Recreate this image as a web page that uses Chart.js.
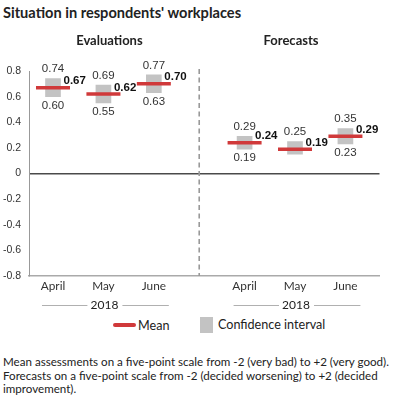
<!DOCTYPE html>
<html><head><meta charset="utf-8">
<script src="https://cdn.jsdelivr.net/npm/chart.js@4"></script>
<style>
html,body{margin:0;padding:0;background:#fff;}
body{width:400px;height:399px;position:relative;overflow:hidden;font-family:Lato,"Noto Sans",sans-serif;color:#222;}
#title{position:absolute;left:3px;top:4px;font-weight:bold;font-size:14.6px;line-height:18px;white-space:nowrap;color:#222;}
#wrap{position:absolute;left:0;top:0;width:400px;height:316px;}
#legend{position:absolute;left:0;top:316px;width:400px;height:18px;font-size:12.6px;color:#222;}
.sw-mean{position:absolute;left:113px;top:7px;width:23px;height:4px;border-radius:2px;background:#d0393a;}
.tx-mean{position:absolute;left:138px;top:1px;line-height:18px;}
.sw-ci{position:absolute;left:200px;top:1px;width:13px;height:16px;background:#c3c3c3;}
.tx-ci{position:absolute;left:218px;top:0px;line-height:18px;}
#note{position:absolute;left:3px;top:355px;font-size:11.6px;line-height:13.7px;white-space:nowrap;color:#222;}
</style>
</head>
<body>
<div id="title"></div>
<div id="wrap"><canvas id="c" width="400" height="316"></canvas></div>
<div id="legend">
  <div class="sw-mean"></div><div class="tx-mean" id="lgMean"></div>
  <div class="sw-ci"></div><div class="tx-ci" id="lgCI"></div>
</div>
<div id="note"></div>
<script>
// ---- data ----
const titleText = "Situation in respondents' workplaces";
const months = ['April', 'May', 'June'];
const groupNames = ['Evaluations', 'Forecasts'];
const yearLabel = '2018';
const evalMean = [0.67, 0.62, 0.70];
const evalLow  = [0.60, 0.55, 0.63];
const evalHigh = [0.74, 0.69, 0.77];
const foreMean = [0.24, 0.19, 0.29];
const foreLow  = [0.19, 0.15, 0.23];
const foreHigh = [0.29, 0.25, 0.35];
const evalLowShown = [true, true, true];
const foreLowShown = [true, false, true];
const yTicks = [-0.8, -0.6, -0.4, -0.2, 0, 0.2, 0.4, 0.6, 0.8];
const legendLabels = ['Mean', 'Confidence interval'];
const noteLines = [
  'Mean assessments on a five-point scale from -2 (very bad) to +2 (very good).',
  'Forecasts on a five-point scale from -2 (decided worsening) to +2 (decided',
  'improvement).'
];

// ---- build ----
document.getElementById('title').textContent = titleText;
document.getElementById('lgMean').textContent = legendLabels[0];
document.getElementById('lgCI').textContent = legendLabels[1];
document.getElementById('note').innerHTML = noteLines.map(s => s.replace(/&/g,'&amp;').replace(/</g,'&lt;')).join('<br>');

const GROUP_STEP = 3.8;
const series = [
  {mean: evalMean, low: evalLow, high: evalHigh, lowShown: evalLowShown},
  {mean: foreMean, low: foreLow, high: foreHigh, lowShown: foreLowShown}
];
const pts = [];
series.forEach((s, g) => months.forEach((m, i) => pts.push({
  x: g * GROUP_STEP + i, g, i, mean: s.mean[i], low: s.low[i], high: s.high[i], lowShown: s.lowShown[i]
})));

const RED = '#d0393a';
const GRAY = '#c3c3c3';
const SANS = 'Lato, "Noto Sans", sans-serif';
const ARIAL = '"Liberation Sans", Arial, sans-serif';

const annot = {
  id: 'annot',
  afterDatasetsDraw(chart) {
    const ctx = chart.ctx, xs = chart.scales.x, ys = chart.scales.y, ca = chart.chartArea;
    ctx.save();
    // separator
    const sepX = xs.getPixelForValue((months.length - 1 + GROUP_STEP) / 2);
    ctx.strokeStyle = '#999'; ctx.lineWidth = 1.6; ctx.setLineDash([5, 3.5]);
    ctx.beginPath(); ctx.moveTo(sepX, ca.top - 2); ctx.lineTo(sepX, ca.bottom); ctx.stroke();
    ctx.setLineDash([]);
    // value labels
    pts.forEach(p => {
      const px = xs.getPixelForValue(p.x);
      ctx.textAlign = 'center'; ctx.textBaseline = 'middle';
      ctx.fillStyle = '#333'; ctx.font = '11.5px ' + ARIAL;
      ctx.fillText(p.high.toFixed(2), px, ys.getPixelForValue(p.high) - 9.5);
      if (p.lowShown) ctx.fillText(p.low.toFixed(2), px, ys.getPixelForValue(p.low) + 9);
      ctx.textAlign = 'left'; ctx.fillStyle = '#111'; ctx.font = 'bold 11.5px ' + ARIAL;
      ctx.fillText(p.mean.toFixed(2), px + 10.5, ys.getPixelForValue(p.mean) - 6.5);
    });
    // group titles & year brackets
    const titleOff = [6, -4];
    groupNames.forEach((name, g) => {
      const x0 = xs.getPixelForValue(g * GROUP_STEP);
      const x2 = xs.getPixelForValue(g * GROUP_STEP + months.length - 1);
      const xc = xs.getPixelForValue(g * GROUP_STEP + (months.length - 1) / 2);
      ctx.fillStyle = '#222'; ctx.font = 'bold 13px ' + SANS;
      ctx.textAlign = 'center'; ctx.textBaseline = 'middle';
      ctx.fillText(name, xc + titleOff[g], ca.top - 30);
      const yy = ca.bottom + 29;
      ctx.font = '12px ' + SANS; ctx.fillStyle = '#222';
      ctx.fillText(yearLabel, xc + 1, yy);
      ctx.strokeStyle = '#b0b0b0'; ctx.lineWidth = 1;
      ctx.beginPath();
      ctx.moveTo(x0 - 11, yy + 0.5); ctx.lineTo(xc - 16, yy + 0.5);
      ctx.moveTo(xc + 19, yy + 0.5); ctx.lineTo(x2 + 15, yy + 0.5);
      ctx.stroke();
    });
    ctx.restore();
  }
};

new Chart(document.getElementById('c'), {
  type: 'bar',
  data: {
    datasets: [
      {
        type: 'scatter',
        data: pts.map(p => ({x: p.x, y: p.mean})),
        pointStyle: 'line', pointRadius: 17, pointHoverRadius: 17,
        pointBorderWidth: 3.5, pointHoverBorderWidth: 3.5,
        borderColor: RED, backgroundColor: RED, showLine: false, order: 0
      },
      {
        type: 'bar',
        data: pts.map(p => ({x: p.x, y: [p.low, p.high]})),
        backgroundColor: GRAY, borderWidth: 0, barThickness: 15, order: 1
      }
    ]
  },
  options: {
    responsive: false, animation: false, devicePixelRatio: 1,
    events: [],
    layout: {padding: {top: 71, right: 6, left: 0, bottom: 0}},
    plugins: {legend: {display: false}, tooltip: {enabled: false}},
    scales: {
      x: {
        type: 'linear', min: -0.476, max: 6.476, offset: false,
        grid: {display: false, drawTicks: false},
        border: {display: true, color: '#aaa', width: 1.5},
        afterBuildTicks: s => { s.ticks = pts.map(p => ({value: p.x})); },
        afterFit: s => { s.height = 40; },
        ticks: {
          autoSkip: false, maxRotation: 0, padding: 3, color: '#333',
          font: {family: SANS, size: 11.8},
          callback: (v, idx) => months[idx % months.length]
        }
      },
      y: {
        min: -0.8, max: 0.8,
        afterBuildTicks: s => { s.ticks = yTicks.map(v => ({value: v})); },
        afterFit: s => { s.width = 29; },
        grid: {
          drawTicks: false, lineWidth: 1.5,
          color: c => (c.tick && Math.abs(c.tick.value) < 1e-9) ? '#4a4a4a' : 'rgba(0,0,0,0)'
        },
        border: {display: true, color: '#999', width: 1},
        ticks: {
          padding: 8, color: '#333', font: {family: ARIAL, size: 10.5},
          callback: v => (Math.abs(v) < 1e-9 ? '0' : (+v).toFixed(1))
        }
      }
    }
  },
  plugins: [annot]
});
</script>
</body></html>
